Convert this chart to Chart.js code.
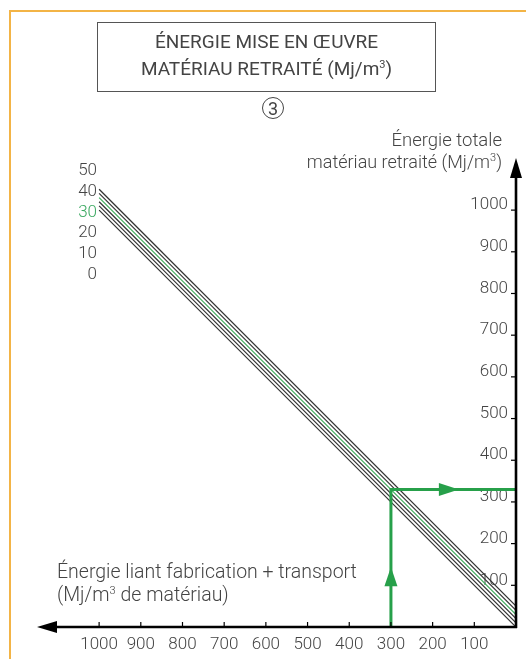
<!DOCTYPE html>
<html>
<head>
<meta charset="utf-8">
<script src="https://cdn.jsdelivr.net/npm/chart.js@4.4.1/dist/chart.umd.min.js"></script>
<style>
  html, body { margin: 0; padding: 0; background: #fff; }
  #wrap { position: relative; width: 526px; height: 659px; overflow: hidden; font-family: Roboto, 'Noto Sans', sans-serif; font-weight: 300; color: #444; }
  #frame { position: absolute; left: 9px; top: 10px; width: 600px; height: 700px; border-left: 2px solid #f3b446; border-top: 2px solid #f3b446; }
  canvas { position: absolute; left: 0; top: 0; }
  .t { position: absolute; white-space: nowrap; line-height: 1; }
  sup { font-size: 11px; vertical-align: 7px; }
  #titlebox { position: absolute; left: 97px; top: 22px; width: 337px; height: 68px; border: 1.5px solid #555; }
  #circle { position: absolute; left: 262px; top: 97px; width: 20px; height: 20px; border: 1.5px solid #444; border-radius: 50%; text-align: center; font-size: 18px; line-height: 21px; font-weight: 400; }
</style>
</head>
<body>
<div id="wrap">
  <div id="frame"></div>
  <canvas id="c" width="526" height="659"></canvas>
  <div id="titlebox"></div>
  <div class="t" style="left:0;width:533px;text-align:center;top:32px;font-size:19px;font-weight:400;">ÉNERGIE MISE EN ŒUVRE</div>
  <div class="t" style="left:0;width:533px;text-align:center;top:59px;font-size:19px;font-weight:400;">MATÉRIAU RETRAITÉ (Mj/m<sup>3</sup>)</div>
  <div id="circle">3</div>
  <div class="t" style="right:24px;top:131px;font-size:18.5px;text-align:right;">Énergie totale</div>
  <div class="t" style="right:24px;top:152px;font-size:18px;text-align:right;">matériau retraité (Mj/m<sup>3</sup>)</div>
  <div class="t" style="left:57px;top:562px;font-size:19.5px;">Énergie liant fabrication + transport</div>
  <div class="t" style="left:57px;top:585px;font-size:19.5px;">(Mj/m<sup>3</sup> de matériau)</div>
  <div id="lineLabels"></div>
</div>
<script>
// ---- data ----
const lineLabels   = ['50', '40', '30', '20', '10', '0'];   // énergie matériau (Mj/m3)
const lineAtX1000  = [1050, 1040, 1030, 1020, 1010, 1000]; // total at liant = 1000
const lineAtX0     = [50, 40, 30, 20, 10, 0];              // total at liant = 0
const lineEnds     = [1000, 0];                            // liant energy endpoints
const highlighted  = '30';
const readX = [300, 300, 0];     // green reading path (liant)
const readY = [0, 330, 330];     // green reading path (total)
const xTicks = [100, 200, 300, 400, 500, 600, 700, 800, 900, 1000];
const yTicks = [100, 200, 300, 400, 500, 600, 700, 800, 900, 1000];

const GREEN = '#27a04a';
const LIGHTGREEN = '#3fae5e';

const datasets = lineLabels.map((lab, i) => ({
  label: lab,
  data: [{ x: lineEnds[0], y: lineAtX1000[i] }, { x: lineEnds[1], y: lineAtX0[i] }],
  showLine: true,
  borderColor: lab === highlighted ? LIGHTGREEN : '#333',
  borderWidth: 1.2,
  pointRadius: 0,
  order: 2
}));
datasets.push({
  label: 'lecture',
  data: readX.map((x, i) => ({ x, y: readY[i] })),
  showLine: true,
  borderColor: GREEN,
  borderWidth: 3,
  pointRadius: 0,
  borderJoinStyle: 'miter',
  order: 1
});

// labels for lines (HTML text)
const ll = document.getElementById('lineLabels');
lineLabels.forEach((lab, i) => {
  const d = document.createElement('div');
  d.className = 't';
  d.textContent = lab;
  d.style.cssText = `right:${526 - 97}px;top:${161 + i * 20.8}px;font-size:17px;text-align:right;color:${lab === highlighted ? '#3aa860' : '#444'}`;
  ll.appendChild(d);
});

const axesPlugin = {
  id: 'axesArrows',
  afterDatasetsDraw(chart) {
    const { ctx, chartArea: a, scales: { x, y } } = chart;
    const x0 = x.getPixelForValue(0), y0 = y.getPixelForValue(0);
    ctx.save();
    ctx.strokeStyle = '#000';
    ctx.fillStyle = '#000';
    ctx.lineWidth = 2.6;
    // x axis
    ctx.beginPath(); ctx.moveTo(x0 + 1, y0); ctx.lineTo(a.left + 16, y0); ctx.stroke();
    ctx.beginPath(); ctx.moveTo(a.left, y0); ctx.lineTo(a.left + 20, y0 - 6); ctx.lineTo(a.left + 20, y0 + 6); ctx.closePath(); ctx.fill();
    // y axis
    ctx.beginPath(); ctx.moveTo(x0, y0 + 1); ctx.lineTo(x0, a.top + 16); ctx.stroke();
    ctx.beginPath(); ctx.moveTo(x0, a.top); ctx.lineTo(x0 - 6, a.top + 20); ctx.lineTo(x0 + 6, a.top + 20); ctx.closePath(); ctx.fill();
    // tick marks
    ctx.lineWidth = 1.2;
    xTicks.forEach(v => { const px = x.getPixelForValue(v); ctx.beginPath(); ctx.moveTo(px, y0 - 5); ctx.lineTo(px, y0); ctx.stroke(); });
    yTicks.forEach(v => { const py = y.getPixelForValue(v); ctx.beginPath(); ctx.moveTo(x0 - 5, py); ctx.lineTo(x0, py); ctx.stroke(); });
    // green arrowheads
    ctx.fillStyle = GREEN;
    const ax = x.getPixelForValue(readX[0]);
    const tipV = y.getPixelForValue(144), baseV = y.getPixelForValue(98);
    ctx.beginPath(); ctx.moveTo(ax, tipV); ctx.lineTo(ax - 6.5, baseV); ctx.lineTo(ax + 6.5, baseV); ctx.closePath(); ctx.fill();
    const ay = y.getPixelForValue(readY[1]);
    const tipH = x.getPixelForValue(137), baseH = x.getPixelForValue(185);
    ctx.beginPath(); ctx.moveTo(tipH, ay); ctx.lineTo(baseH, ay - 6.5); ctx.lineTo(baseH, ay + 6.5); ctx.closePath(); ctx.fill();
    ctx.restore();
  }
};

const tickFont = { family: 'Roboto', size: 17, weight: '300' };

new Chart(document.getElementById('c'), {
  type: 'scatter',
  data: { datasets },
  options: {
    responsive: false,
    animation: false,
    layout: { padding: { left: 37, top: 158, right: 0, bottom: 0 } },
    plugins: { legend: { display: false }, tooltip: { enabled: false } },
    scales: {
      x: {
        type: 'linear', reverse: true, min: 0, max: 1149, position: 'bottom',
        grid: { display: false }, border: { display: false },
        afterBuildTicks: s => { s.ticks = xTicks.map(v => ({ value: v })); },
        afterFit: s => { s.height = 32; },
        ticks: { autoSkip: false, maxRotation: 0, padding: 0, color: '#444', font: tickFont, callback: v => String(v) }
      },
      y: {
        type: 'linear', min: 0, max: 1125, position: 'right',
        grid: { display: false }, border: { display: false },
        afterBuildTicks: s => { s.ticks = yTicks.map(v => ({ value: v })); },
        afterFit: s => { s.width = 10; },
        ticks: { autoSkip: false, mirror: true, padding: -8, labelOffset: -5, color: '#444', font: tickFont, callback: v => String(v) }
      }
    }
  },
  plugins: [axesPlugin]
});
</script>
</body>
</html>
